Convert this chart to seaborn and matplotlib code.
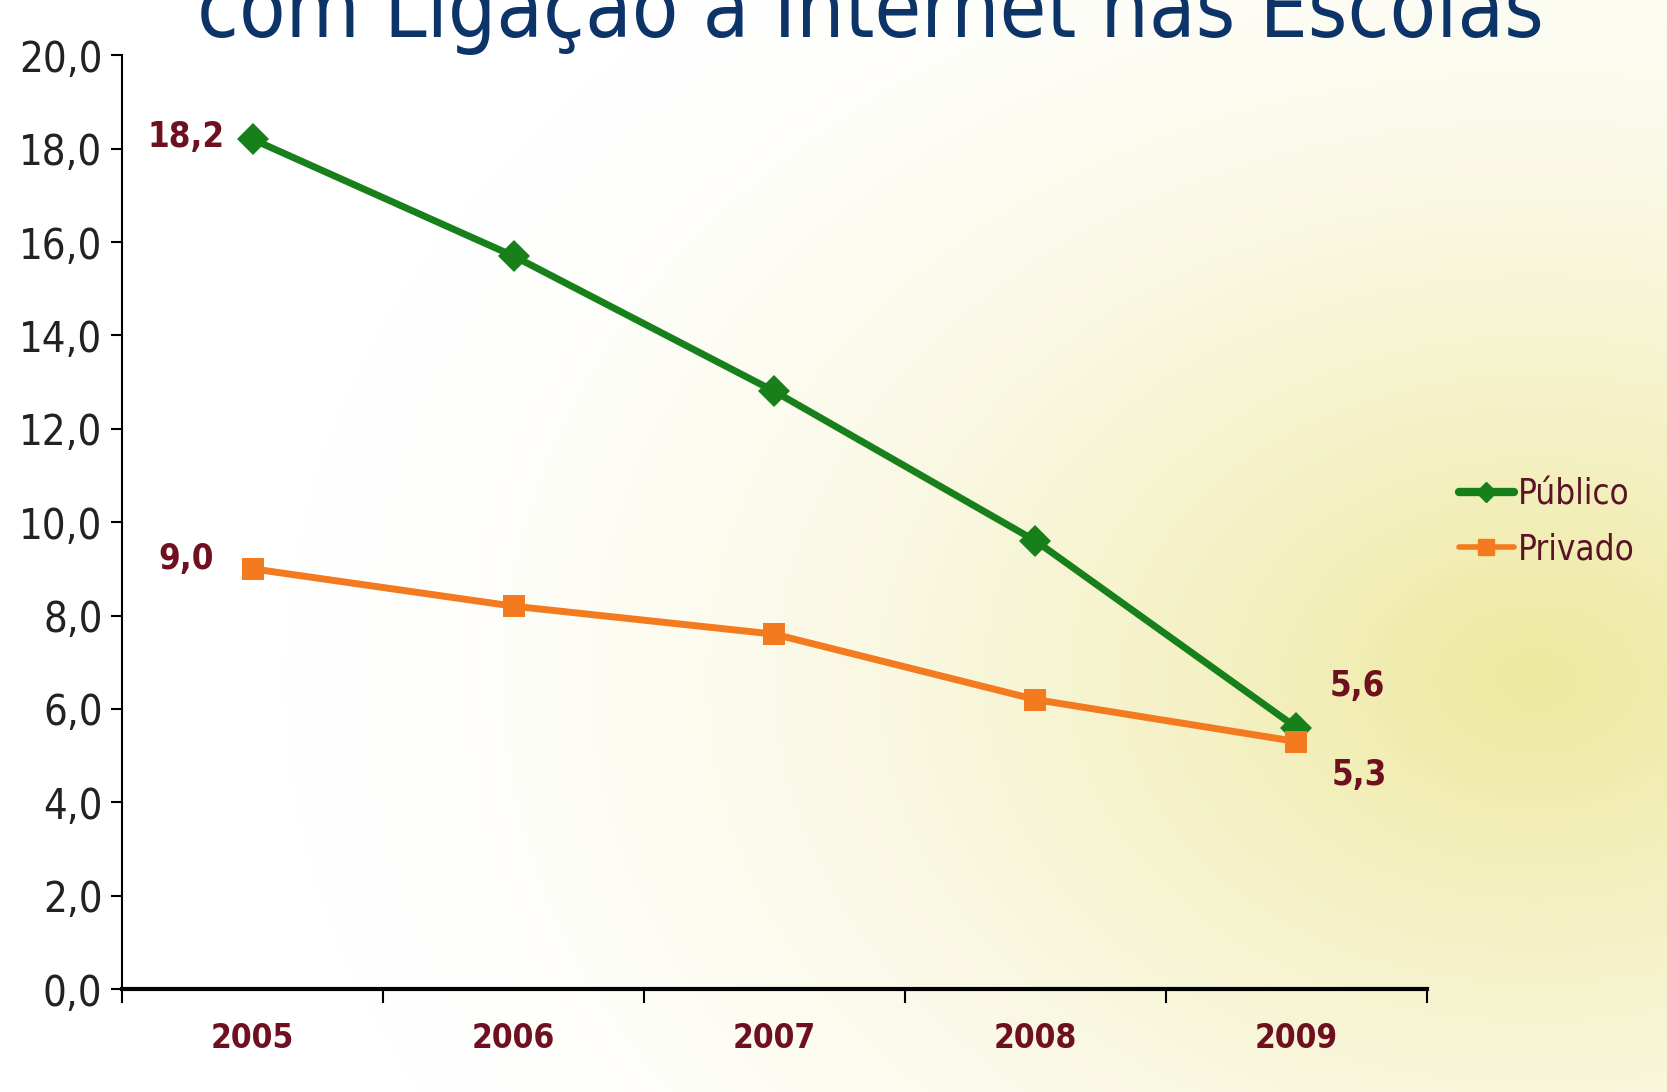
import numpy as np
import pandas as pd
import matplotlib
matplotlib.use("Agg")
import matplotlib.pyplot as plt
import seaborn as sns
from matplotlib.lines import Line2D

years = ["2005", "2006", "2007", "2008", "2009"]
publico = [18.2, 15.7, 12.8, 9.6, 5.6]
privado = [9.0, 8.2, 7.6, 6.2, 5.3]
series_names = ["Público", "Privado"]
title_text = "com Ligação à Internet nas Escolas"
yticks = [0, 2, 4, 6, 8, 10, 12, 14, 16, 18, 20]

sns.set_theme(style="white")
plt.rcParams["font.family"] = ["DejaVu Sans"]
plt.rcParams["font.stretch"] = "condensed"

GREEN = "#17801a"
ORANGE = "#f47a20"
DARKRED = "#6e1020"
NAVY = "#0d3468"

df = pd.DataFrame({
    "pos": list(range(len(years))) * 2,
    "valor": publico + privado,
    "serie": [series_names[0]] * len(years) + [series_names[1]] * len(years),
})

fig = plt.figure(figsize=(16.67, 10.92), dpi=100)

bg = fig.add_axes([0, 0, 1, 1], zorder=-10)
h, w = 273, 417
yy, xx = np.mgrid[0:h, 0:w]
cx, cy = 0.92 * w, 0.62 * h
r = np.sqrt(((xx - cx) / w) ** 2 + ((yy - cy) / h) ** 2 * 0.8)
t = np.clip(1.0 - r / 0.75, 0, 1) ** 1.6
white = np.array([1.0, 1.0, 1.0])
yel = np.array([0.93, 0.91, 0.62])
img = white[None, None, :] * (1 - t[..., None]) + yel[None, None, :] * t[..., None]
bg.imshow(img, aspect="auto", extent=[0, 1, 0, 1], origin="upper")
bg.axis("off")

ax = fig.add_axes([0.0732, 0.0943, 0.7828, 0.8551])
ax.patch.set_alpha(0)

sns.lineplot(data=df, x="pos", y="valor", hue="serie", style="serie",
             palette={series_names[0]: GREEN, series_names[1]: ORANGE},
             markers={series_names[0]: "D", series_names[1]: "s"},
             dashes=False, linewidth=5, markersize=16, markeredgewidth=0,
             legend=False, ax=ax)

ax.set_xlim(-0.5, len(years) - 0.5)
ax.set_ylim(0, 20)
ax.set_yticks(yticks)
ax.set_yticklabels([f"{v:.1f}".replace(".", ",") for v in yticks],
                   fontsize=30, color="#222222")
ax.set_xticks(range(len(years)))
ax.set_xticklabels(years, fontsize=24, fontweight="bold", color=DARKRED)
ax.set_xticks(np.arange(-0.5, len(years), 1.0), minor=True)
ax.tick_params(axis="x", which="major", length=0, pad=24)
ax.tick_params(axis="x", which="minor", direction="out", length=10, width=1.5,
               color="black", bottom=True)
ax.tick_params(axis="y", direction="out", length=8, width=1.5, color="black", pad=6, left=True)
ax.set_xlabel("")
ax.set_ylabel("")
for s in ["top", "right"]:
    ax.spines[s].set_visible(False)
ax.spines["left"].set_color("black")
ax.spines["left"].set_linewidth(1.5)
ax.spines["bottom"].set_color("black")
ax.spines["bottom"].set_linewidth(3)
ax.grid(False)

lab_kw = dict(fontsize=25, fontweight="bold", color=DARKRED)
ax.annotate(f"{publico[0]:.1f}".replace(".", ","), (0, publico[0]), xytext=(-20, 2),
            textcoords="offset points", ha="right", va="center", **lab_kw)
ax.annotate(f"{privado[0]:.1f}".replace(".", ","), (0, privado[0]), xytext=(-28, 7),
            textcoords="offset points", ha="right", va="center", **lab_kw)
ax.annotate(f"{publico[-1]:.1f}".replace(".", ","), (4, publico[-1]), xytext=(24, 30),
            textcoords="offset points", ha="left", va="center", **lab_kw)
ax.annotate(f"{privado[-1]:.1f}".replace(".", ","), (4, privado[-1]), xytext=(25, -24),
            textcoords="offset points", ha="left", va="center", **lab_kw)

handles = [Line2D([], [], color=GREEN, marker="D", lw=6, ms=10),
           Line2D([], [], color=ORANGE, marker="s", lw=4, ms=12)]
fig.legend(handles, series_names, loc="center left", bbox_to_anchor=(0.875, 0.522),
           frameon=False, fontsize=25, handlelength=1.6, handletextpad=0.1,
           labelspacing=0.6, labelcolor="#5a1426", borderaxespad=0, borderpad=0)

fig.text(0.522, 1 - 37 / 1092, title_text, ha="center", va="baseline",
         fontsize=61, color=NAVY)

fig.savefig("out.png", dpi=100)
